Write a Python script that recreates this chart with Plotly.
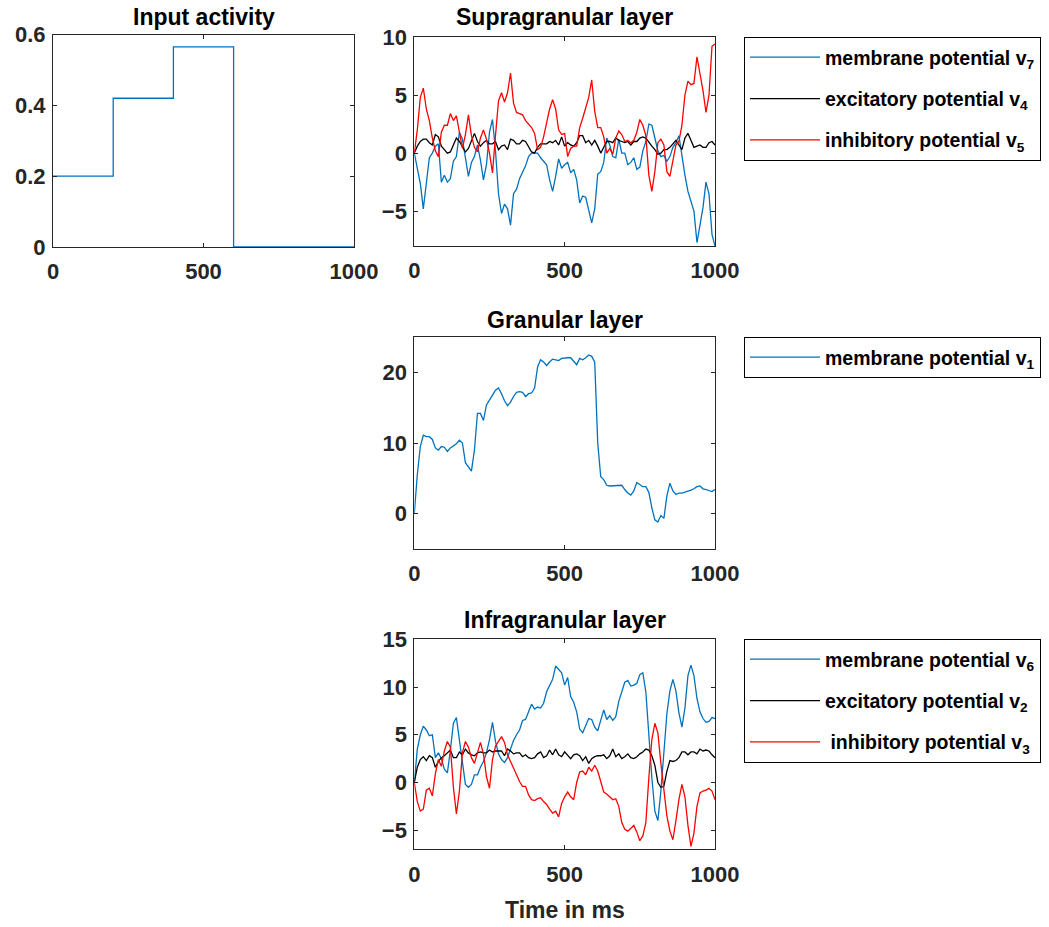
import plotly.graph_objects as go

W, H = 1049, 927
FONT = "Liberation Sans, Arial, Helvetica, sans-serif"
AXC = "#262626"
BLUE, BLACK, RED = "#0072BD", "#000000", "#FF0000"

# ---------------- data ----------------
time_ms = list(range(0, 1001, 10))

input_t = [0, 200, 400, 600, 1000]
input_level = [0.2, 0.42, 0.565, 0.0, 0.0]

supra_v7 = [0.0, -1.3, -2.6, -4.8, -2.3, -0.4, 0.0, 0.6, 0.8, -2.5,
            -1.9, -2.5, -2.2, -0.7, -0.3, 1.8, 1.2, -0.5, -2.0, -0.8,
            -0.3, 0.7, -0.6, -2.3, -1.0, 1.8, 2.9, 0.2, -3.5, -5.2,
            -4.4, -4.8, -6.2, -3.5, -3.1, -2.2, -1.7, -1.1, -0.3, 0.0,
            0.0, 0.0, -0.4, -0.7, -1.0, -2.3, -3.3, -2.0, -0.5, -1.3,
            -1.0, -0.8, -1.7, -1.4, -2.3, -4.3, -3.7, -3.8, -5.0, -6.0,
            -4.8, -1.8, -1.6, -0.8, 1.3, 0.7, -0.3, -0.4, 1.2, 0.0,
            0.0, -1.0, -0.8, -0.4, -1.4, -1.2, 0.2, 1.0, 2.5, 2.4,
            1.3, 0.2, -0.3, -0.2, -0.7, -0.3, 0.5, 0.9, 1.5, -0.4,
            -1.9, -3.3, -4.1, -5.0, -7.7, -6.0, -4.7, -2.5, -3.5, -7.0,
            -8.0]
supra_v4 = [0.0, 0.6, 1.0, 1.2, 1.2, 0.9, 0.7, 1.6, 1.4, 0.6,
            0.3, 0.0, 0.1, 0.7, 1.3, 1.0, 0.5, 0.1, 0.4, 1.1,
            1.7, 1.0, 0.6, 0.9, 1.1, 0.8, 0.8, 1.0, 0.3, 0.6,
            0.7, 0.3, 1.2, 1.1, 0.8, 0.8, 1.1, 1.0, 0.6, 0.1,
            0.0, 0.5, 0.8, 0.8, 0.8, 1.0, 0.9, 1.1, 0.7, 1.4,
            0.6, 0.9, 0.7, 0.6, 0.9, 1.5, 1.5, 0.9, 1.1, 0.7,
            1.1, 0.6, 0.0, 0.5, 1.0, 1.0, 0.9, 1.3, 1.1, 1.0,
            0.9, 1.0, 0.7, 1.0, 1.0, 1.3, 1.4, 1.3, 0.9, 0.6,
            0.3, -0.1, 0.0, 0.3, 0.3, 0.5, 0.8, 1.1, 0.7, 0.3,
            1.3, 1.7, 1.1, 0.5, 0.6, 0.7, 0.5, 0.5, 0.9, 1.0,
            0.7]
supra_v5 = [0.0, 2.0, 4.8, 5.6, 3.8, 2.8, 1.3, 0.2, -0.3, 1.8,
            2.4, 2.4, 3.4, 2.8, 3.2, 1.8, 0.4, 1.6, 3.3, 1.5,
            0.5, 0.1, 1.3, 2.0, 1.2, 0.0, -1.7, 1.5, 4.5, 5.2,
            4.4, 5.2, 6.9, 4.3, 3.5, 3.4, 3.3, 2.8, 2.5, 2.2,
            1.7, 0.3, 0.5, 1.4, 2.6, 3.8, 4.6, 3.8, 2.0, 1.6,
            1.7, -0.3, 0.4, 0.6, 0.6, 2.2, 3.0, 3.8, 4.8, 6.3,
            3.6, 2.2, 2.2, 1.4, 0.0, 0.4, -0.1, 1.3, 1.9, 1.6,
            1.0, 1.1, 0.9, 1.1, 1.8, 2.9, 2.4, 1.5, -1.9, -3.3,
            -1.6, 0.9, 1.2, 0.7, -1.6, -2.0, -0.6, 0.7, 1.0, 2.4,
            5.0, 6.2, 5.9, 6.0, 8.3, 6.8, 5.4, 3.5, 5.0, 9.2,
            9.4]

gran_v1 = [0.0, 5.5, 9.5, 11.1, 10.9, 10.9, 10.5, 9.3, 9.0, 9.5,
           9.4, 8.8, 9.3, 9.6, 9.9, 10.4, 10.0, 7.2, 6.6, 6.0,
           9.0, 14.2, 14.2, 13.2, 15.4, 16.2, 16.8, 17.5, 17.8, 17.0,
           16.0, 15.3, 15.8, 16.6, 17.2, 17.3, 17.2, 16.6, 17.0, 17.1,
           17.8, 20.8, 21.8, 21.5, 21.0, 21.5, 21.9, 21.8, 21.7, 22.0,
           22.1, 22.1, 22.1, 21.6, 21.1, 22.0, 21.8, 22.1, 22.5, 22.3,
           21.5, 10.0, 5.2, 4.8, 4.0, 3.9, 3.9, 3.9, 4.0, 4.0,
           3.4, 2.9, 2.6, 3.2, 4.4, 4.1, 3.8, 3.8, 3.0, 0.8,
           -0.9, -1.2, -0.3, -0.7, 2.5, 4.3, 3.2, 2.7, 2.9, 2.9,
           3.0, 3.2, 3.3, 3.5, 3.8, 3.9, 3.5, 3.4, 3.3, 3.1,
           3.4]

infra_v6 = [0.0, 3.5, 5.0, 5.9, 5.5, 4.9, 5.0, 2.6, 3.1, 2.5,
            1.4, 1.0, 3.4, 6.2, 6.8, 4.6, 2.0, -0.2, -0.5, -0.2,
            0.8, 0.8, 1.6, 2.2, 3.1, 4.5, 6.3, 4.3, 3.0, 2.4,
            2.1, 2.6, 3.5, 4.4, 5.0, 5.5, 6.5, 6.6, 7.4, 8.2,
            7.7, 7.9, 7.8, 8.3, 9.5, 10.1, 10.8, 12.2, 11.8, 11.5,
            10.2, 11.0, 9.0, 8.4, 7.4, 5.6, 5.2, 6.0, 6.7, 6.6,
            5.8, 5.4, 6.5, 7.6, 6.6, 7.0, 6.5, 6.9, 8.5, 9.6,
            10.5, 10.7, 10.1, 10.2, 10.4, 11.3, 11.5, 9.5, 4.8, 0.5,
            -3.0, -4.0, -0.9, 3.5, 7.2, 9.6, 10.8, 9.6, 7.3, 5.8,
            7.8, 11.2, 12.3, 11.2, 8.8, 7.4, 6.7, 6.3, 6.4, 6.8,
            6.7]
infra_v2 = [0.0, 1.6, 2.4, 2.7, 2.3, 2.8, 2.6, 1.6, 2.2, 2.6,
            2.8, 3.1, 3.4, 2.6, 2.6, 3.2, 2.9, 3.5, 3.1, 2.9,
            2.8, 3.1, 3.2, 3.1, 3.1, 3.4, 3.2, 3.3, 3.3, 3.3,
            2.8, 3.5, 3.3, 3.0, 3.1, 3.1, 2.7, 2.9, 2.6, 2.5,
            2.6, 3.0, 3.2, 2.6, 2.8, 3.4, 2.9, 3.5, 2.9, 2.7,
            3.2, 2.9, 2.5, 2.9, 3.0, 2.8, 2.3, 2.7, 2.0, 2.5,
            2.7, 2.8, 2.8, 2.9, 2.5, 2.8, 3.5, 2.7, 3.0, 2.5,
            2.7, 3.0, 2.6, 2.5, 2.7, 3.0, 3.2, 3.5, 3.4, 2.8,
            1.8, 0.0, -0.5, -0.4, 1.2, 2.3, 2.2, 2.3, 2.6, 3.2,
            3.2, 2.9, 3.2, 3.2, 3.0, 3.5, 3.3, 3.4, 3.3, 2.9,
            2.6]
infra_v3 = [0.0, -2.0, -3.0, -2.8, -0.8, -0.6, -1.4, 0.9, 2.4, 1.7,
            3.3, 4.3, 3.7, -0.5, -3.3, -0.9, 3.1, 4.3, 3.7, 2.6,
            2.0, 3.1, 4.2, 3.0, 0.6, -0.6, 2.4, 3.8, 4.3, 4.8,
            4.2, 2.9, 2.2, 1.4, 0.8, 0.1, -0.4, -0.4, -1.3, -1.8,
            -1.9, -1.7, -1.6, -2.0, -2.3, -2.8, -3.2, -3.0, -3.6, -2.2,
            -1.5, -1.0, -1.5, -1.8, 0.0, 1.1, 1.2, 0.8, 1.6, 1.2,
            1.8, 1.2, 0.0, -1.0, -1.2, -1.5, -1.8, -1.7, -2.5, -4.2,
            -4.9, -5.1, -4.8, -4.5, -5.2, -6.1, -5.6, -4.2, 0.5, 4.5,
            6.2, 5.2, 2.0, -0.8, -3.5, -5.1, -6.0, -4.0, -1.8, -0.2,
            -1.5, -4.5, -6.7, -5.3, -2.5, -1.1, -0.9, -0.8, -0.6, -0.9,
            -1.8]

for s in (supra_v7, supra_v4, supra_v5, gran_v1, infra_v6, infra_v2, infra_v3):
    assert len(s) == len(time_ms)

# ---------------- layout geometry (pixels) ----------------
def xdom(l, r):
    return [l / W, r / W]

def ydom(top, bottom):
    return [1 - bottom / H, 1 - top / H]

fig = go.Figure()

fig.add_trace(go.Scatter(x=input_t, y=input_level, mode="lines", line=dict(color=BLUE, width=1.3, shape="hv"),
                         xaxis="x", yaxis="y", showlegend=False))

supra = [(supra_v7, BLUE, "membrane potential v<sub>7</sub>"),
         (supra_v4, BLACK, "excitatory potential v<sub>4</sub>"),
         (supra_v5, RED, "inhibitory potential v<sub>5</sub>")]
for i, (vals, col, name) in enumerate(supra):
    fig.add_trace(go.Scatter(x=time_ms, y=vals, mode="lines", line=dict(color=col, width=1.3),
                             name=name, xaxis="x2", yaxis="y2", legend="legend", legendgroup=f"s{i}"))

fig.add_trace(go.Scatter(x=time_ms, y=gran_v1, mode="lines", line=dict(color=BLUE, width=1.3),
                         name="membrane potential v<sub>1</sub>", xaxis="x3", yaxis="y3", legend="legend2"))

infra = [(infra_v6, BLUE, "membrane potential v<sub>6</sub>"),
         (infra_v2, BLACK, "excitatory potential v<sub>2</sub>"),
         (infra_v3, RED, "&nbsp;inhibitory potential v<sub>3</sub>")]
for i, (vals, col, name) in enumerate(infra):
    fig.add_trace(go.Scatter(x=time_ms, y=vals, mode="lines", line=dict(color=col, width=1.3),
                             name=name, xaxis="x4", yaxis="y4", legend="legend3", legendgroup=f"i{i}"))

tickfont = dict(family=FONT, size=22, color=AXC, weight="bold")
axis_common = dict(showline=True, linecolor=AXC, linewidth=1, mirror="ticks", ticks="inside", ticklen=4,
                   tickcolor=AXC, tickwidth=1, showgrid=False, zeroline=False, tickfont=tickfont,
                   automargin=False)

xt = dict(tickvals=[0, 500, 1000], range=[0, 1000], ticklabelstandoff=5)
yt = dict(ticklabelstandoff=2)

legend_common = dict(bgcolor="white", bordercolor=BLACK, borderwidth=1, xanchor="left", yanchor="top",
                     font=dict(family=FONT, size=19.5, color=BLACK, weight="bold"), itemwidth=70,
                     tracegroupgap=13)

fig.update_layout(
    width=W, height=H, margin=dict(l=0, r=0, t=0, b=0, autoexpand=False),
    paper_bgcolor="white", plot_bgcolor="white",
    xaxis=dict(domain=xdom(53, 354), anchor="y", **xt, **axis_common),
    yaxis=dict(domain=ydom(34.5, 247), anchor="x", range=[0, 0.6], tickvals=[0, 0.2, 0.4, 0.6], **yt, **axis_common),
    xaxis2=dict(domain=xdom(414.3, 715), anchor="y2", **xt, **axis_common),
    yaxis2=dict(domain=ydom(37, 246), anchor="x2", range=[-8, 10], tickvals=[-5, 0, 5, 10], **yt, **axis_common),
    xaxis3=dict(domain=xdom(414.3, 715), anchor="y3", **xt, **axis_common),
    yaxis3=dict(domain=ydom(337.3, 548.7), anchor="x3", range=[-5, 25], tickvals=[0, 10, 20], **yt, **axis_common),
    xaxis4=dict(domain=xdom(414.3, 715), anchor="y4", **xt, **axis_common),
    yaxis4=dict(domain=ydom(639.3, 849.3), anchor="x4", range=[-7, 15], tickvals=[-5, 0, 5, 10, 15], **yt, **axis_common),
    legend=dict(x=744 / W, y=1 - 37 / H, **legend_common),
    legend2=dict(x=744 / W, y=1 - 337 / H, **legend_common),
    legend3=dict(x=744 / W, y=1 - 639 / H, **legend_common),
)

titles = [("Input activity", 203.5, 17), ("Supragranular layer", 564.6, 17),
          ("Granular layer", 564.6, 320), ("Infragranular layer", 564.6, 620)]
for text, cx, cy in titles:
    fig.add_annotation(text=text, x=cx / W, y=1 - cy / H, xref="paper", yref="paper", showarrow=False,
                       xanchor="center", yanchor="middle",
                       font=dict(family=FONT, size=23, color=BLACK, weight="bold"))

# x-axis label of the bottom panel
fig.add_annotation(text="Time in ms", x=564.6 / W, y=1 - 910 / H, xref="paper", yref="paper", showarrow=False,
                   xanchor="center", yanchor="middle",
                   font=dict(family=FONT, size=23, color=AXC, weight="bold"))

fig.write_html("out.html")
